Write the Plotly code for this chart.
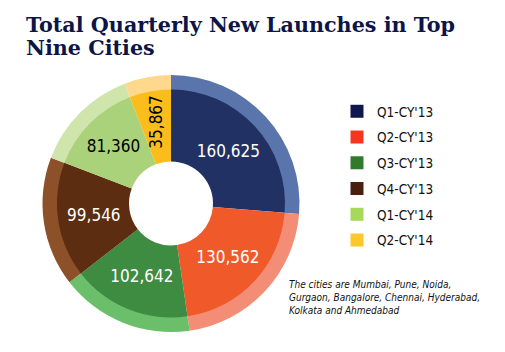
import math
import plotly.graph_objects as go

quarters = ["Q1-CY'13", "Q2-CY'13", "Q3-CY'13", "Q4-CY'13", "Q1-CY'14", "Q2-CY'14"]
launches = [160625, 130562, 102642, 99546, 81360, 35867]

inner_colors = ["#213164", "#f0592a", "#3e8b42", "#5c2d10", "#a9d27b", "#fbbd1c"]
outer_colors = ["#5a75ac", "#f48d75", "#6bbf6b", "#8c5128", "#cfe5ac", "#fdd88d"]
legend_colors = ["#0f174f", "#f4361c", "#2f7a2d", "#4a1f10", "#a6d85a", "#fcc82c"]
text_colors = ["white", "white", "white", "white", "black", "black"]
horizontal_labels = [True, True, True, True, True, False]

W, H = 505, 352
cx, cy, R = 171, 203.5, 128.5
cy_b = H - cy
Ri = 114

dom_outer = dict(x=[(cx - R) / W, (cx + R) / W], y=[(cy_b - R) / H, (cy_b + R) / H])
dom_inner = dict(x=[(cx - Ri) / W, (cx + Ri) / W], y=[(cy_b - Ri) / H, (cy_b + Ri) / H])

LAB_FAMILY = "DejaVu Sans Condensed"
LAB_SIZE = 17

fig = go.Figure()

# outer lighter ring
fig.add_trace(go.Pie(
    labels=quarters, values=launches, sort=False, direction="clockwise", rotation=0,
    marker=dict(colors=outer_colors, line=dict(width=0)),
    hole=0.88, textinfo="none", hoverinfo="skip", showlegend=False, domain=dom_outer,
))

# inner ring with horizontal labels
fig.add_trace(go.Pie(
    labels=quarters, values=launches, sort=False, direction="clockwise", rotation=0,
    marker=dict(colors=inner_colors, line=dict(width=0)),
    hole=42 / Ri, texttemplate=["%{value:,}" if h else "" for h in horizontal_labels],
    textposition="inside", insidetextorientation="horizontal",
    textfont=dict(family=LAB_FAMILY, size=LAB_SIZE, color=text_colors),
    showlegend=False, domain=dom_inner,
))

# legend entries
for q, c in zip(quarters, legend_colors):
    fig.add_trace(go.Scatter(
        x=[None], y=[None], mode="markers", name=q, legendgroup=q,
        marker=dict(symbol="square", size=13, color=c),
    ))

annotations = [
    dict(
        text="<b>Total Quarterly New Launches in Top</b>",
        x=24 / W, y=1 - 11 / H, xref="paper", yref="paper", xanchor="left", yanchor="top",
        showarrow=False, align="left",
        font=dict(family="DejaVu Serif", size=20.7, color="#0d1547"),
    ),
    dict(
        text="<b>Nine Cities</b>",
        x=24 / W, y=1 - 34 / H, xref="paper", yref="paper", xanchor="left", yanchor="top",
        showarrow=False, align="left",
        font=dict(family="DejaVu Serif", size=20.7, color="#0d1547"),
    ),
    dict(
        text="The cities are Mumbai, Pune, Noida,<br>Gurgaon, Bangalore, Chennai, Hyderabad,<br>Kolkata and Ahmedabad",
        x=287 / W, y=1 - 277 / H, xref="paper", yref="paper", xanchor="left", yanchor="top",
        showarrow=False, align="left",
        font=dict(family=LAB_FAMILY, size=10, color="#111111", style="italic"),
    ),
]

# vertical labels for narrow slices, placed at the slice mid-angle
total = sum(launches)
cum = 0
for v, h, tc in zip(launches, horizontal_labels, text_colors):
    mid = (cum + v / 2) / total * 2 * math.pi
    cum += v
    if h:
        continue
    r_lab = 83
    px = cx + r_lab * math.sin(mid)
    py = cy_b + r_lab * math.cos(mid)
    annotations.append(dict(
        text=f"{v:,}", x=px / W, y=py / H, xref="paper", yref="paper",
        xanchor="center", yanchor="middle", showarrow=False, textangle=-90,
        font=dict(family=LAB_FAMILY, size=LAB_SIZE, color=tc),
    ))

fig.update_layout(
    width=W, height=H, margin=dict(l=0, r=0, t=0, b=0),
    paper_bgcolor="white", plot_bgcolor="white",
    xaxis=dict(visible=False), yaxis=dict(visible=False),
    uniformtext=dict(minsize=LAB_SIZE, mode="show"),
    legend=dict(
        x=337 / W, y=1 - 96 / H, xanchor="left", yanchor="top",
        font=dict(family=LAB_FAMILY, size=13.5, color="#111111"),
        tracegroupgap=5.2, bgcolor="rgba(0,0,0,0)",
    ),
    annotations=annotations,
)

fig.write_html("out.html")
